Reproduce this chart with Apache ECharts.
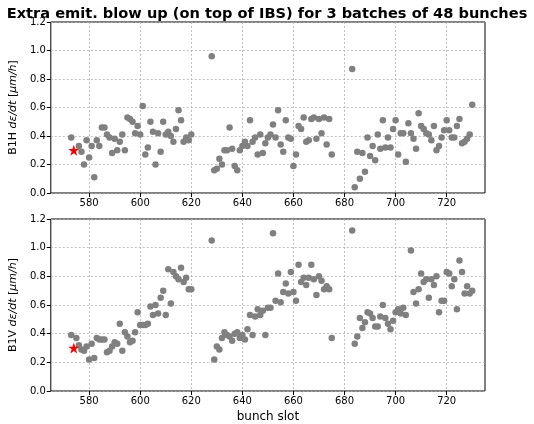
<!DOCTYPE html>
<html style="height: 100%">
<head>
<meta charset="utf-8">
<title>Extra emit. blow up</title>
<style>
  html, body { margin: 0; padding: 0; background: #fff; }
  #chart { width: 534px; height: 424px; }
</style>
</head>
<body>
<div id="chart"></div>
<script src="https://cdn.jsdelivr.net/npm/echarts@6/dist/echarts.min.js"></script>
<script type="text/javascript">
// bunch slots and values (three batches of 48)
var slotsH = [573,576,577,578,579,580,581,582,583,584,585,586,587,588,589,590,591,592,593,594,595,596,597,598,599,600,601,602,603,604,605,606,607,608,609,610,611,612,613,614,615,616,617,618,619,620,
  628,629,630,631,632,633,634,635,636,637,638,639,640,641,642,643,644,645,646,647,648,649,650,651,652,653,654,655,656,657,658,659,660,661,662,663,664,665,666,667,668,669,670,671,672,673,674,675,
  683,684,685,686,687,688,689,690,691,692,693,694,695,696,697,698,699,700,701,702,703,704,705,706,707,708,709,710,711,712,713,714,715,716,717,718,719,720,721,722,723,724,725,726,727,728,729,730];
var valuesH = [.39,.33,.29,.20,.37,.25,.33,.11,.37,.33,.46,.46,.41,.39,.28,.38,.30,.36,.41,.30,.53,.52,.50,.42,.47,.41,.61,.27,.32,.50,.43,.20,.42,.29,.50,.41,.43,.40,.36,.45,.58,.51,.36,.39,.37,.41,
  .96,.16,.17,.24,.20,.30,.30,.46,.31,.19,.16,.30,.33,.36,.33,.51,.36,.39,.27,.41,.28,.35,.39,.41,.48,.39,.58,.34,.29,.51,.39,.38,.19,.27,.47,.45,.53,.36,.37,.52,.53,.38,.52,.42,.53,.34,.52,.27,
  .87,.04,.29,.10,.28,.15,.39,.26,.33,.23,.41,.31,.51,.32,.39,.32,.45,.51,.27,.42,.42,.22,.49,.42,.38,.31,.56,.47,.45,.42,.41,.37,.47,.30,.33,.39,.44,.51,.44,.39,.39,.47,.52,.35,.36,.38,.41,.62];

var slotsV = [573,575,576,577,578,579,580,581,582,583,584,585,586,587,588,589,590,591,592,593,594,595,596,597,598,599,600,601,602,603,604,605,606,607,608,609,610,611,612,613,614,615,616,617,618,619,620,
  628,629,630,631,632,633,634,635,636,637,638,639,640,641,642,643,644,645,646,647,648,649,650,651,652,653,654,655,656,657,658,659,660,661,662,663,664,665,666,667,668,669,670,671,672,673,674,675,
  683,684,685,686,687,688,689,690,691,692,693,694,695,696,697,698,699,700,701,702,703,704,706,707,708,709,710,711,712,713,714,715,716,717,718,719,720,721,722,723,724,725,726,727,728,729,730];
var valuesV = [.39,.37,.32,.29,.28,.31,.22,.33,.23,.37,.36,.36,.36,.27,.28,.31,.34,.33,.47,.28,.41,.38,.34,.35,.41,.55,.46,.46,.46,.47,.59,.53,.60,.54,.65,.70,.53,.85,.61,.83,.80,.78,.86,.76,.79,.71,.71,
  1.05,.22,.31,.29,.37,.41,.39,.38,.35,.40,.41,.37,.39,.36,.43,.53,.39,.52,.57,.53,.56,.39,.58,.58,1.10,.63,.82,.62,.69,.75,.68,.83,.69,.63,.88,.76,.79,.74,.79,.88,.78,.67,.80,.77,.71,.73,.71,.37,
  1.12,.33,.38,.51,.44,.48,.55,.54,.51,.45,.45,.52,.60,.51,.47,.43,.49,.55,.57,.54,.58,.53,.98,.69,.61,.71,.82,.76,.78,.65,.78,.74,.80,.55,.63,.63,.83,.82,.73,.78,.57,.91,.83,.68,.73,.68,.70];

var refSlot = [574];
var refH = [0.30];
var refV = [0.30];

var xTicks = [580, 600, 620, 640, 660, 680, 700, 720];

function pairs(xs, ys) {
  var out = [];
  for (var i = 0; i < xs.length; i++) out.push([xs[i], ys[i]]);
  return out;
}

var FONT = 'DejaVu Sans';
var STAR = 'path://M50,0 L61.8,35.3 L98.9,35.5 L69,57.6 L80.4,93 L50,71.3 L19.6,93 L31,57.6 L1.1,35.5 L38.2,35.3 Z';

function makeX(idx, withName) {
  var ax = {
    type: 'value', gridIndex: idx, min: 565, max: 735,
    axisLine: { show: false },
    axisTick: { show: true, length: 4, customValues: xTicks, lineStyle: { color: '#000' } },
    axisLabel: { customValues: xTicks, color: '#000', fontSize: 10, fontFamily: FONT, margin: 5 },
    splitLine: { show: true, lineStyle: { color: '#b0b0b0', type: [2, 2], width: 0.8 } }
  };
  if (withName) {
    ax.name = 'bunch slot';
    ax.nameLocation = 'middle';
    ax.nameGap = 20;
    ax.nameTextStyle = { color: '#000', fontSize: 12, fontFamily: FONT };
  }
  return ax;
}

function makeY(idx, plane) {
  return {
    type: 'value', gridIndex: idx, min: 0, max: 1.2, interval: 0.2,
    name: '{n|' + plane + ' }{i|dε/dt}{n| [}{i|μm/h}{n|]}',
    nameLocation: 'middle', nameRotate: 90, nameGap: 26,
    nameTextStyle: {
      rich: {
        n: { fontSize: 11, fontFamily: FONT, color: '#000' },
        i: { fontSize: 11, fontFamily: FONT, color: '#000', fontStyle: 'italic' }
      }
    },
    axisLine: { show: false },
    axisTick: { show: true, length: 4, lineStyle: { color: '#000' } },
    axisLabel: { color: '#000', fontSize: 10, fontFamily: FONT, margin: 5,
      formatter: function (v) { return v.toFixed(1); } },
    splitLine: { show: true, lineStyle: { color: '#b0b0b0', type: [2, 2], width: 0.8 } }
  };
}

var myChart = echarts.init(document.getElementById('chart'), null, { renderer: 'canvas' });
var option = {
  animation: false,
  backgroundColor: '#fff',
  title: {
    text: 'Extra emit. blow up (on top of IBS) for 3 batches of 48 bunches',
    left: 'center', top: 2,
    textStyle: { fontSize: 14.6, fontWeight: 'bold', fontFamily: FONT, color: '#000' }
  },
  grid: [
    { left: 46, right: 49, top: 22, height: 171, show: true, borderColor: '#000', borderWidth: 1, backgroundColor: 'transparent' },
    { left: 46, right: 49, top: 219, height: 173, show: true, borderColor: '#000', borderWidth: 1, backgroundColor: 'transparent' }
  ],
  xAxis: [makeX(0, false), makeX(1, true)],
  yAxis: [makeY(0, 'B1H'), makeY(1, 'B1V')],
  series: [
    { type: 'scatter', xAxisIndex: 0, yAxisIndex: 0, data: pairs(slotsH, valuesH),
      symbolSize: 6.5, itemStyle: { color: '#808080', opacity: 1 } },
    { type: 'scatter', xAxisIndex: 1, yAxisIndex: 1, data: pairs(slotsV, valuesV),
      symbolSize: 6.5, itemStyle: { color: '#808080', opacity: 1 } },
    { type: 'scatter', xAxisIndex: 0, yAxisIndex: 0, data: pairs(refSlot, refH), z: 5,
      symbol: STAR, symbolSize: 11, itemStyle: { color: '#ff0000', opacity: 1 } },
    { type: 'scatter', xAxisIndex: 1, yAxisIndex: 1, data: pairs(refSlot, refV), z: 5,
      symbol: STAR, symbolSize: 11, itemStyle: { color: '#ff0000', opacity: 1 } }
  ]
};
myChart.setOption(option);
</script>
</body>
</html>
